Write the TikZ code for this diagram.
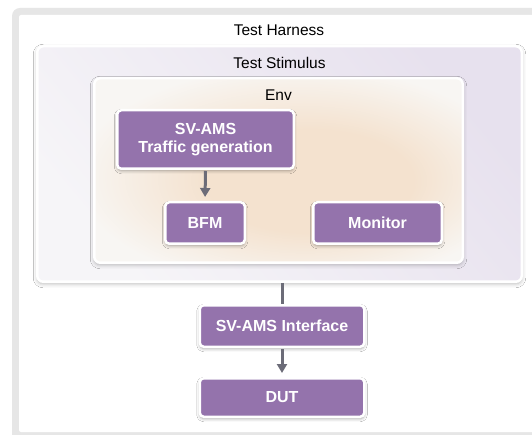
\documentclass[tikz,border=0pt]{standalone}
\usepackage{fontspec}
\setmainfont{Liberation Sans}
\usetikzlibrary{arrows.meta,shadows.blur}
\definecolor{purp}{HTML}{9473AC}
\definecolor{lav}{HTML}{E7E1EE}
\definecolor{lavlight}{HTML}{F6F5F8}
\definecolor{beige}{HTML}{F4E2CF}
\definecolor{beigelight}{HTML}{F8F6F3}
\definecolor{framegray}{HTML}{E6E6E6}
\definecolor{arrowgray}{HTML}{6C6C78}
\pgfdeclareradialshading{envshade}{\pgfpoint{6bp}{-4bp}}{%
  color(0bp)=(beige); color(14bp)=(beige); color(30bp)=(beigelight); color(50bp)=(beigelight)}
\tikzset{
  container/.style={draw=white, line width=2.5pt, rounded corners=6pt,
    blur shadow={shadow xshift=0pt, shadow yshift=-2pt, shadow blur radius=4pt, shadow opacity=30}},
  block/.style={draw=white, line width=2.5pt, rounded corners=4pt, fill=purp,
    text=white, font=\fontsize{16}{18}\selectfont\bfseries, align=center,
    blur shadow={shadow xshift=0pt, shadow yshift=-2pt, shadow blur radius=3pt, shadow opacity=35}},
  title/.style={font=\fontsize{15.5}{18}\selectfont, text=black},
  conn/.style={draw=arrowgray, line width=3pt},
  arr/.style={conn, -{Triangle[length=9pt,width=10pt]}, shorten >=4pt, shorten <=1pt}
}
\begin{document}
\begin{tikzpicture}[x=1pt,y=-1pt]
\useasboundingbox (0,0) rectangle (532,435);
\clip (0,0) rectangle (532,435);
\fill[white] (0,0) rectangle (532,435);
% outer frame
\fill[framegray, rounded corners=8pt] (12,8) rectangle (560,460);
\fill[white, rounded corners=2pt] (19,15) rectangle (560,432);
\node[title] (harness) at (279,30) {Test Harness};
% Test Stimulus container
\node[container, minimum width=484.5pt, minimum height=235.5pt,
  top color=lav, bottom color=lavlight, shading angle=-50] (ts) at (279.5,164) {};
\node[title] (tslabel) at (279.5,63) {Test Stimulus};
% Env container
\node[container, minimum width=368.5pt, minimum height=184.5pt,
  shading=envshade] (env) at (278.5,170.5) {};
\node[title] (envlabel) at (278.5,95) {Env};
% blocks
\node[block, minimum width=176.5pt, minimum height=58.5pt] (gen) at (205.5,139.5) {SV-AMS\\Traffic generation};
\node[block, minimum width=79.5pt, minimum height=41.5pt] (bfm) at (205,223) {BFM};
\node[block, minimum width=128.5pt, minimum height=41.5pt] (mon) at (377.5,223) {Monitor};
\node[block, minimum width=164.5pt, minimum height=41.5pt] (iface) at (282,326) {SV-AMS Interface};
\node[block, minimum width=164.5pt, minimum height=38.5pt] (dut) at (282,397.5) {DUT};
% connectors
\draw[arr] (gen.south) -- (bfm.north);
\draw[conn] (ts.south -| iface.north) -- (iface.north);
\draw[arr] (iface.south) -- (dut.north);
\end{tikzpicture}
\end{document}
